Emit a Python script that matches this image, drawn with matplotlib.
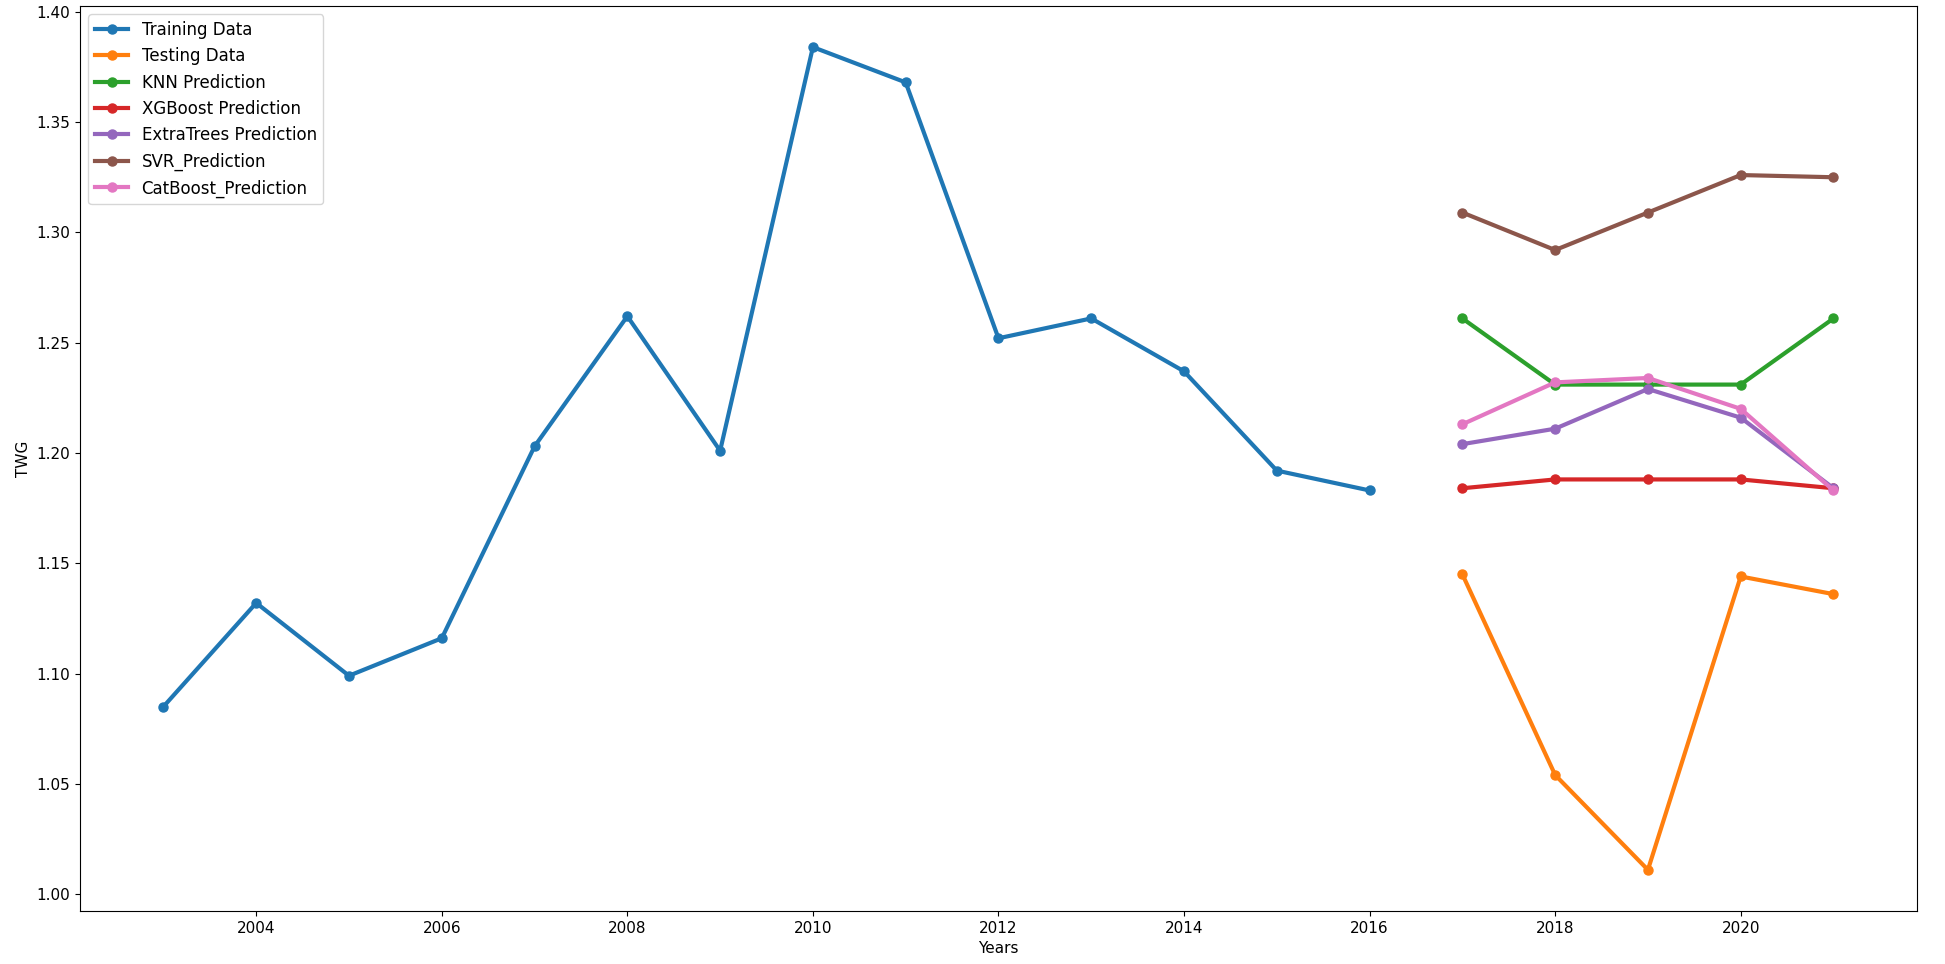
import matplotlib
matplotlib.use("Agg")
import matplotlib.pyplot as plt

# Years
train_years = [2003, 2004, 2005, 2006, 2007, 2008, 2009, 2010, 2011, 2012, 2013, 2014, 2015, 2016]
test_years = [2017, 2018, 2019, 2020, 2021]
year_ticks = [2004, 2006, 2008, 2010, 2012, 2014, 2016, 2018, 2020]

# TWG values
training = [1.085, 1.132, 1.099, 1.116, 1.203, 1.262, 1.201, 1.384, 1.368, 1.252, 1.261, 1.237, 1.192, 1.183]
testing = [1.145, 1.054, 1.011, 1.144, 1.136]
knn = [1.261, 1.231, 1.231, 1.231, 1.261]
xgboost = [1.184, 1.188, 1.188, 1.188, 1.184]
extratrees = [1.204, 1.211, 1.229, 1.216, 1.184]
svr = [1.309, 1.292, 1.309, 1.326, 1.325]
catboost = [1.213, 1.232, 1.234, 1.220, 1.183]

fig = plt.figure(figsize=(19.45, 9.64), dpi=100)
ax = fig.add_axes([0.0411, 0.055, 0.9445, 0.9388])

kw = dict(marker='o', linewidth=3, markersize=6.5)
ax.plot(train_years, training, label='Training Data', **kw)
ax.plot(test_years, testing, label='Testing Data', **kw)
ax.plot(test_years, knn, label='KNN Prediction', **kw)
ax.plot(test_years, xgboost, label='XGBoost Prediction', **kw)
ax.plot(test_years, extratrees, label='ExtraTrees Prediction', **kw)
ax.plot(test_years, svr, label='SVR_Prediction', **kw)
ax.plot(test_years, catboost, label='CatBoost_Prediction', **kw)

ax.set_xticks(year_ticks)
ax.set_xticklabels([str(y) for y in year_ticks])
ax.set_xlabel('Years', fontsize=11)
ax.set_ylabel('TWG', fontsize=11)
ax.tick_params(labelsize=11)
ax.legend(loc='upper left', fontsize=12)

fig.savefig('out.png', dpi=100)
